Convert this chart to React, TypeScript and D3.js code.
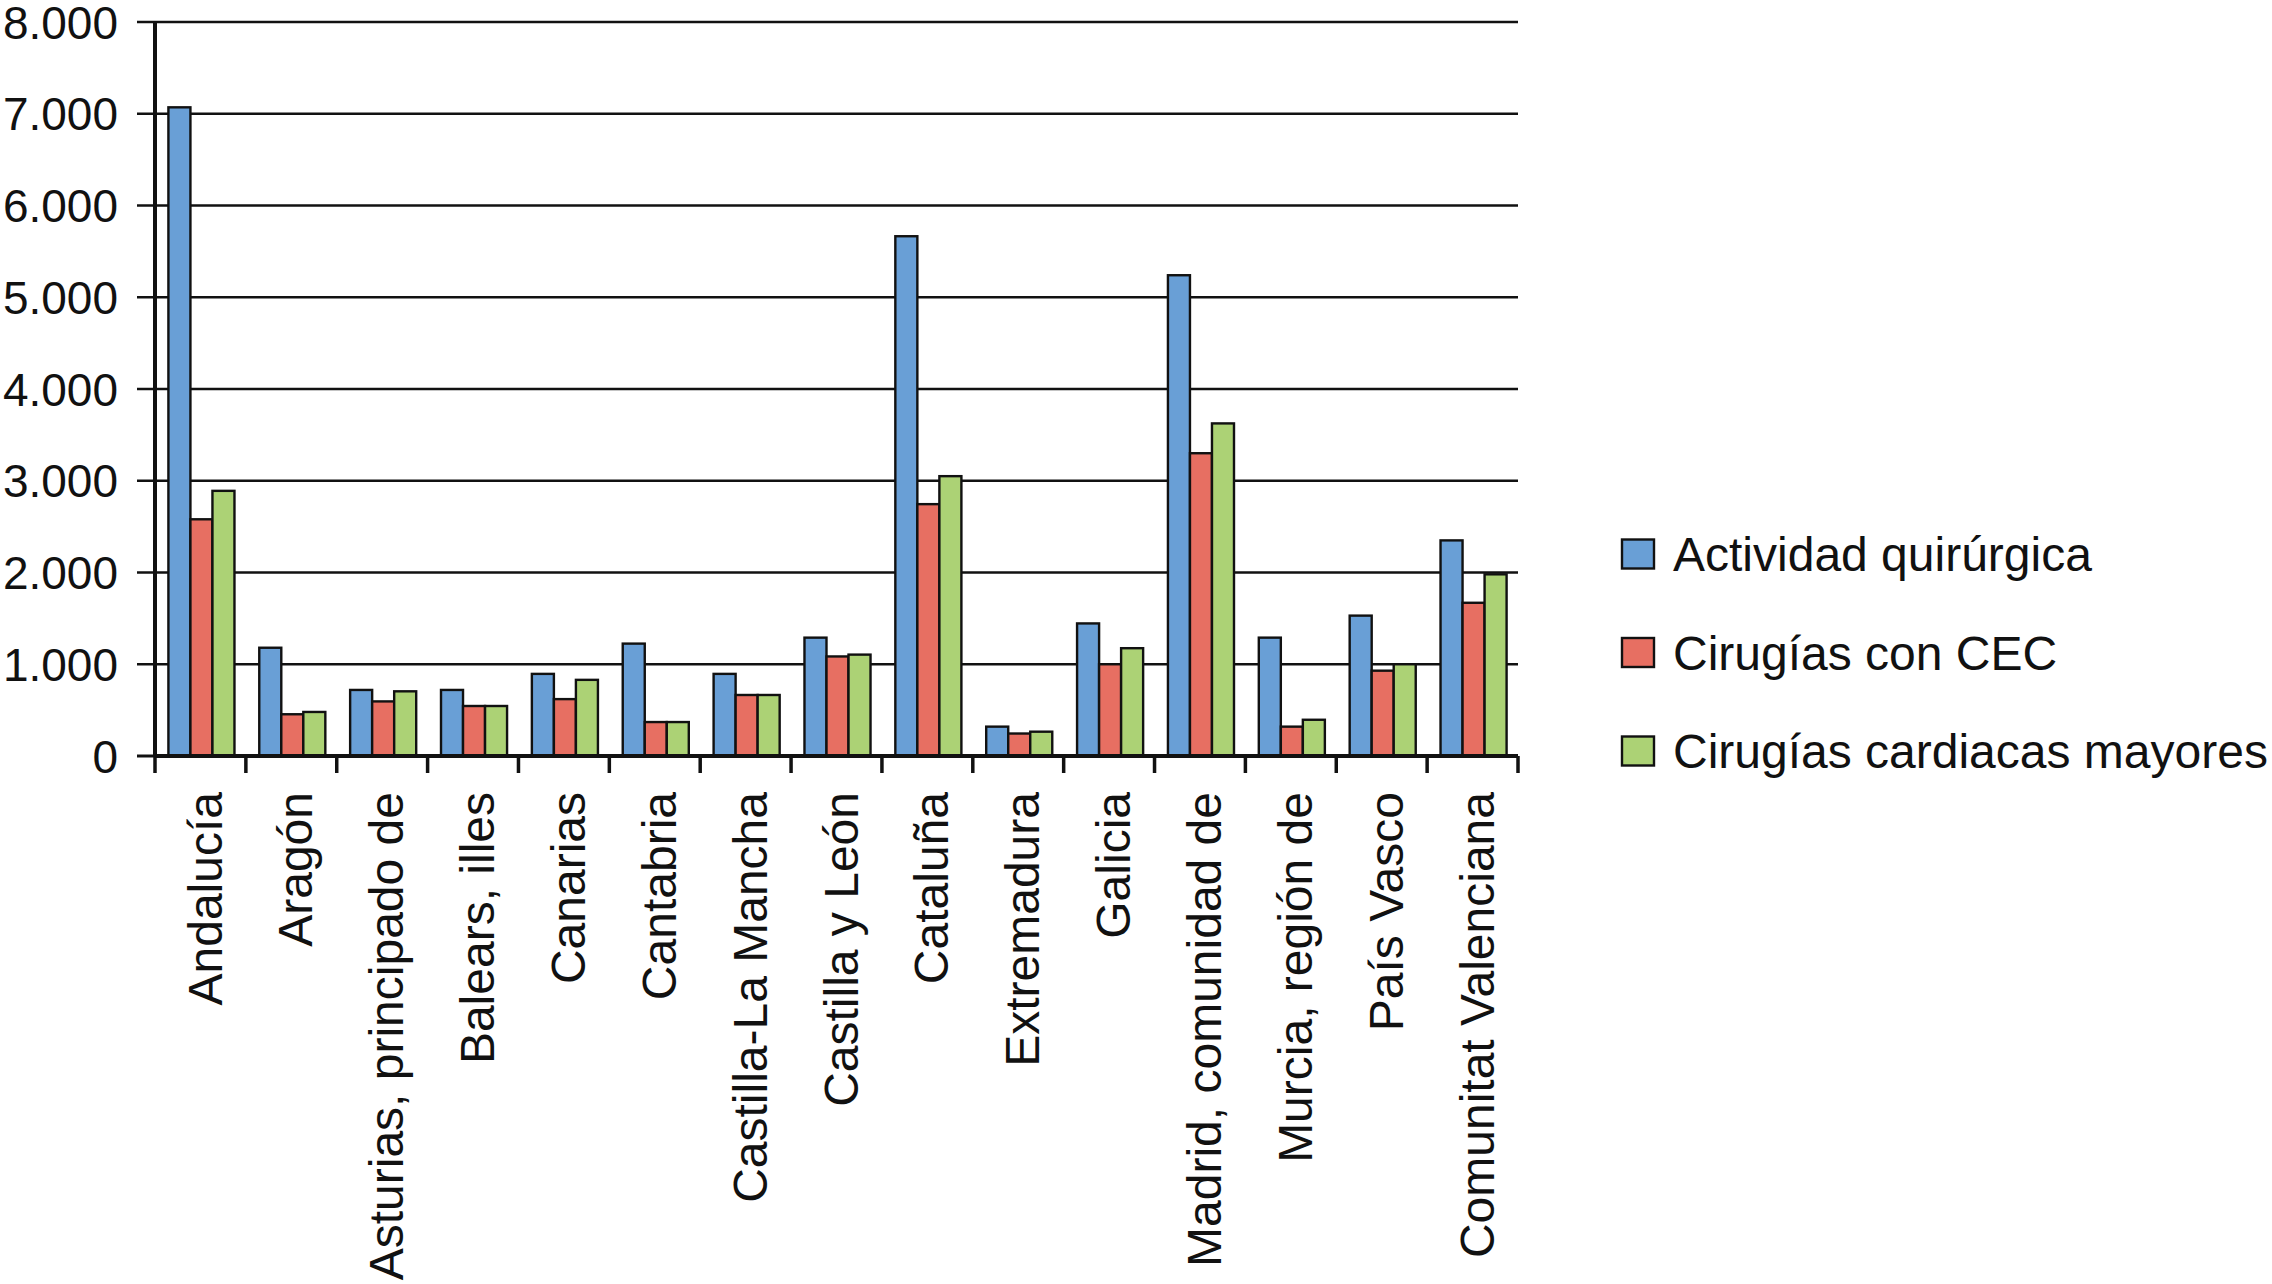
import { useMemo } from "react";
import * as d3 from "d3";

const regions = [
  "Andalucía",
  "Aragón",
  "Asturias, principado de",
  "Balears, illes",
  "Canarias",
  "Cantabria",
  "Castilla-La Mancha",
  "Castilla y León",
  "Cataluña",
  "Extremadura",
  "Galicia",
  "Madrid, comunidad de",
  "Murcia, región de",
  "País Vasco",
  "Comunitat Valenciana"
];

const seriesNames = ["Actividad quirúrgica", "Cirugías con CEC", "Cirugías cardiacas mayores"];
const seriesColors = ["#699fd6", "#e76f62", "#acd275"];

const actividad = [7070, 1180, 720, 720, 895, 1225, 895, 1290, 5665, 320, 1445, 5240, 1290, 1530, 2350];
const conCEC = [2580, 455, 595, 545, 620, 370, 665, 1085, 2745, 245, 1000, 3300, 320, 930, 1670];
const mayores = [2890, 480, 705, 545, 830, 370, 665, 1105, 3050, 265, 1175, 3625, 395, 1000, 1980];

const yTicks = [0, 1000, 2000, 3000, 4000, 5000, 6000, 7000, 8000];

const WIDTH = 2272;
const HEIGHT = 1284;
const FONT = "'Liberation Sans', Arial, Helvetica, sans-serif";

const fmt = d3
  .formatLocale({ decimal: ",", thousands: ".", grouping: [3], currency: ["", ""] })
  .format(",");

export default function App() {
  const margin = { left: 155, right: 1518, top: 22, bottom: 756 };

  const x = useMemo(
    () => d3.scaleBand<string>().domain(regions).range([margin.left, margin.right]).padding(0),
    []
  );
  const y = useMemo(() => d3.scaleLinear().domain([0, 8000]).range([margin.bottom, margin.top]), []);

  const groupW = x.bandwidth() * 0.727;
  const inner = d3.scaleBand<number>().domain([0, 1, 2]).range([0, groupW]).padding(0);
  const offset = (x.bandwidth() - groupW) / 2 + 1;

  const series = [actividad, conCEC, mayores];

  return (
    <svg
      width={WIDTH}
      height={HEIGHT}
      viewBox={`0 0 ${WIDTH} ${HEIGHT}`}
      style={{ position: "absolute", left: 0, top: 0, background: "#fff" }}
      fontFamily={FONT}
    >
      <rect x={0} y={0} width={WIDTH} height={HEIGHT} fill="#fff" />

      {/* gridlines + y ticks */}
      {yTicks.map((t) => (
        <g key={t}>
          {t > 0 && (
            <line x1={137} x2={margin.right} y1={y(t)} y2={y(t)} stroke="#111" strokeWidth={2.6} />
          )}
          {t === 0 && <line x1={137} x2={margin.left} y1={y(t)} y2={y(t)} stroke="#111" strokeWidth={3} />}
          <text x={118} y={y(t)} dy="0.36em" textAnchor="end" fontSize={46} fill="#111">
            {fmt(t)}
          </text>
        </g>
      ))}

      {/* bars */}
      {regions.map((r, i) => (
        <g key={r} transform={`translate(${x(r)! + offset},0)`}>
          {series.map((vals, s) => (
            <rect
              key={s}
              x={inner(s)!}
              y={y(vals[i])}
              width={inner.bandwidth()}
              height={y(0) - y(vals[i])}
              fill={seriesColors[s]}
              stroke="#111"
              strokeWidth={2.4}
            />
          ))}
        </g>
      ))}

      {/* axes */}
      <line x1={margin.left} x2={margin.left} y1={margin.top} y2={margin.bottom} stroke="#111" strokeWidth={4} />
      <line x1={margin.left} x2={margin.right} y1={margin.bottom} y2={margin.bottom} stroke="#111" strokeWidth={4} />
      {[...regions.map((r) => x(r)!), margin.right].map((px, i) => (
        <line key={i} x1={px} x2={px} y1={margin.bottom} y2={margin.bottom + 17} stroke="#111" strokeWidth={3.5} />
      ))}

      {/* category labels */}
      {regions.map((r) => (
        <text
          key={r}
          transform={`translate(${x(r)! + x.bandwidth() / 2},792) rotate(-90)`}
          dy="0.44em"
          textAnchor="end"
          fontSize={48}
          fill="#111"
        >
          {r}
        </text>
      ))}

      {/* legend */}
      {seriesNames.map((name, s) => (
        <g key={name} transform={`translate(1622,${554 + s * 98.5})`}>
          <rect x={0} y={-14.5} width={32} height={29} fill={seriesColors[s]} stroke="#111" strokeWidth={2.4} />
          <text x={51} y={0} dy="0.36em" fontSize={48} fill="#111">
            {name}
          </text>
        </g>
      ))}
    </svg>
  );
}
